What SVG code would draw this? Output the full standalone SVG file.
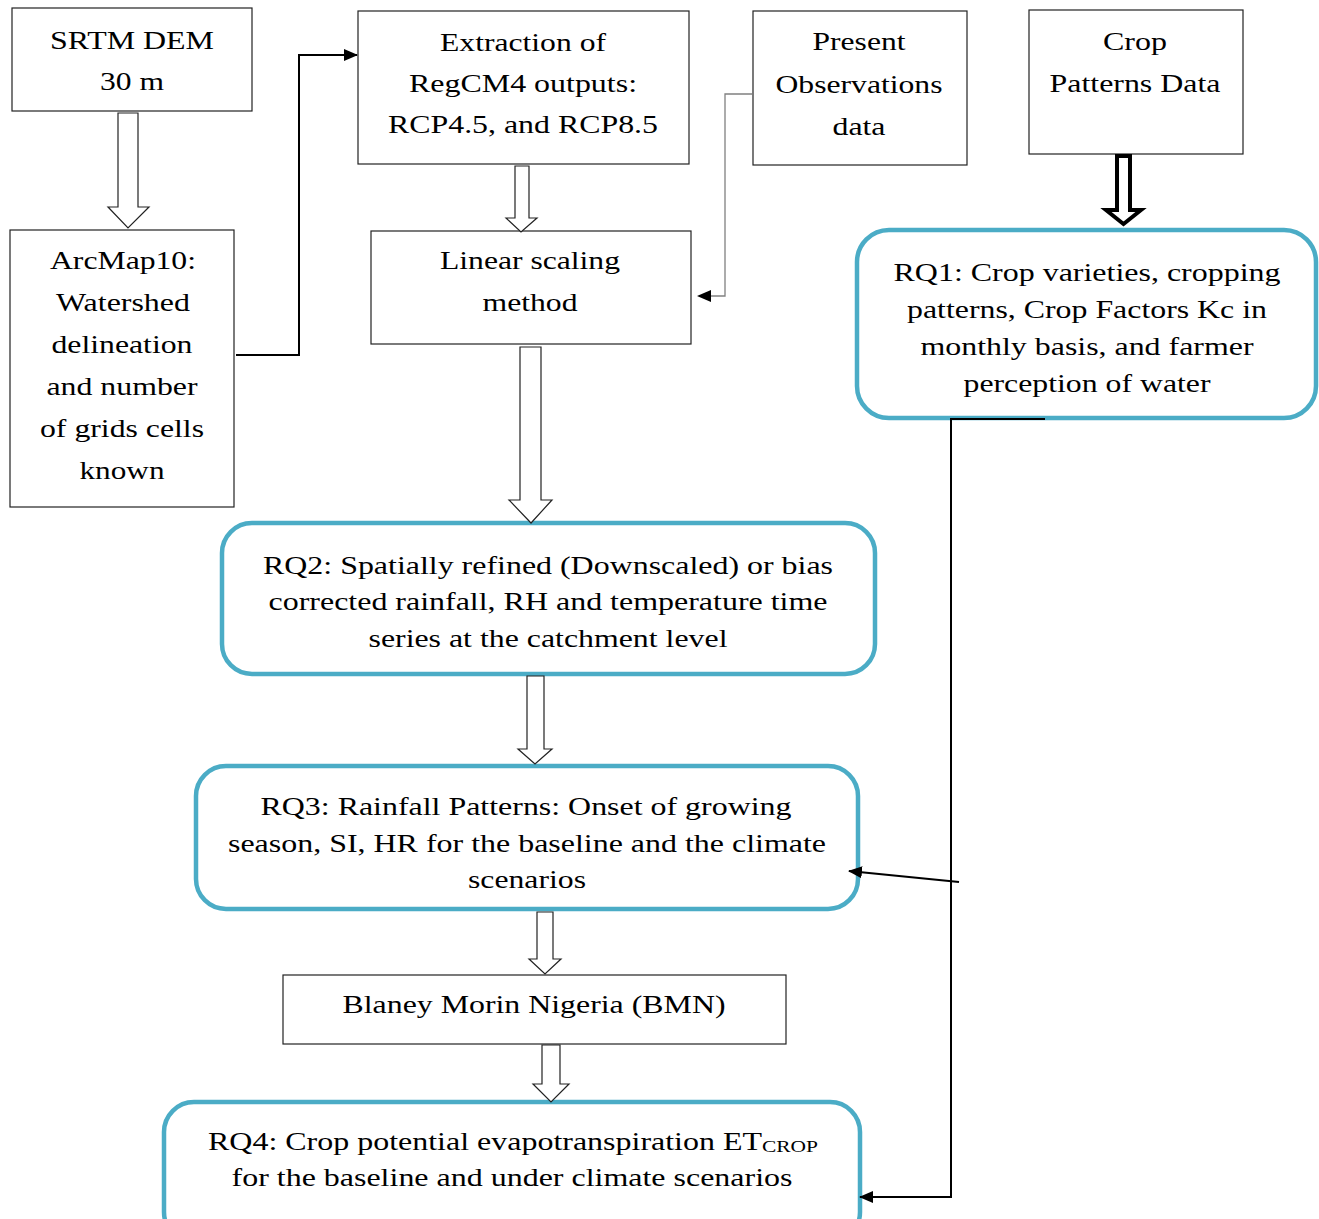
<svg xmlns="http://www.w3.org/2000/svg" width="1319" height="1219" viewBox="0 0 1319 1219" font-family="Liberation Serif, Times New Roman, serif">
<style>
.box{fill:#fff;stroke:#222;stroke-width:1.2}
.rq{fill:#fff;stroke:#4BACC6;stroke-width:4.5}
text{font-family:"Liberation Serif",serif}
.t{font-size:24.5px;fill:#000;text-anchor:middle}
.ts{font-size:17px;fill:#000}
.hol{fill:#fff;stroke:#222;stroke-width:1.2;stroke-linejoin:miter}
.thk{fill:#fff;stroke:#000;stroke-width:4;stroke-linejoin:miter}
.ln{fill:none;stroke:#000;stroke-width:2}
.lg{fill:none;stroke:#808080;stroke-width:1.3}
</style>
<defs>
<marker id="ah" markerUnits="userSpaceOnUse" markerWidth="14" markerHeight="12" refX="13" refY="6" orient="auto">
<path d="M0,0 L14,6 L0,12 Z" fill="#000"/>
</marker>
</defs>
<rect width="1319" height="1219" fill="#fff"/>

<g id="srtm">
<rect class="box" x="12" y="8" width="240" height="103"/>
<text class="t" x="132" y="49" textLength="164" lengthAdjust="spacingAndGlyphs">SRTM DEM</text>
<text class="t" x="132" y="90" textLength="64" lengthAdjust="spacingAndGlyphs">30 m</text>
</g>

<g id="arcmap">
<rect class="box" x="10" y="230" width="224" height="277"/>
<text class="t" x="123" y="269" textLength="146" lengthAdjust="spacingAndGlyphs">ArcMap10:</text>
<text class="t" x="123" y="311" textLength="134" lengthAdjust="spacingAndGlyphs">Watershed</text>
<text class="t" x="122" y="353" textLength="141" lengthAdjust="spacingAndGlyphs">delineation</text>
<text class="t" x="122" y="395" textLength="151" lengthAdjust="spacingAndGlyphs">and number</text>
<text class="t" x="122" y="437" textLength="164" lengthAdjust="spacingAndGlyphs">of grids cells</text>
<text class="t" x="122" y="479" textLength="85" lengthAdjust="spacingAndGlyphs">known</text>
</g>

<g id="extraction">
<rect class="box" x="358" y="11" width="331" height="153"/>
<text class="t" x="523" y="51" textLength="166" lengthAdjust="spacingAndGlyphs">Extraction of</text>
<text class="t" x="523" y="92" textLength="228" lengthAdjust="spacingAndGlyphs">RegCM4 outputs:</text>
<text class="t" x="523" y="133" textLength="270" lengthAdjust="spacingAndGlyphs">RCP4.5, and RCP8.5</text>
</g>

<g id="linear">
<rect class="box" x="371" y="231" width="320" height="113"/>
<text class="t" x="530" y="269" textLength="180" lengthAdjust="spacingAndGlyphs">Linear scaling</text>
<text class="t" x="530" y="311" textLength="95" lengthAdjust="spacingAndGlyphs">method</text>
</g>

<g id="present">
<rect class="box" x="753" y="11" width="214" height="154"/>
<text class="t" x="859" y="50" textLength="93" lengthAdjust="spacingAndGlyphs">Present</text>
<text class="t" x="859" y="93" textLength="167" lengthAdjust="spacingAndGlyphs">Observations</text>
<text class="t" x="859" y="135" textLength="53" lengthAdjust="spacingAndGlyphs">data</text>
</g>

<g id="crop">
<rect class="box" x="1029" y="10" width="214" height="144"/>
<text class="t" x="1135" y="50" textLength="64" lengthAdjust="spacingAndGlyphs">Crop</text>
<text class="t" x="1135" y="92" textLength="171" lengthAdjust="spacingAndGlyphs">Patterns Data</text>
</g>

<g id="rq1">
<rect class="rq" x="857" y="230" width="459" height="188" rx="32" ry="32"/>
<text class="t" x="1087" y="281" textLength="387" lengthAdjust="spacingAndGlyphs">RQ1: Crop varieties, cropping</text>
<text class="t" x="1087" y="318" textLength="360" lengthAdjust="spacingAndGlyphs">patterns, Crop Factors Kc in</text>
<text class="t" x="1087" y="355" textLength="333" lengthAdjust="spacingAndGlyphs">monthly basis, and farmer</text>
<text class="t" x="1087" y="392" textLength="247" lengthAdjust="spacingAndGlyphs">perception of water</text>
</g>

<g id="rq2">
<rect class="rq" x="222" y="523" width="653" height="151" rx="30" ry="30"/>
<text class="t" x="548" y="574" textLength="570" lengthAdjust="spacingAndGlyphs">RQ2: Spatially refined (Downscaled) or bias</text>
<text class="t" x="548" y="610" textLength="559" lengthAdjust="spacingAndGlyphs">corrected rainfall, RH and temperature time</text>
<text class="t" x="548" y="647" textLength="359" lengthAdjust="spacingAndGlyphs">series at the catchment level</text>
</g>

<g id="rq3">
<rect class="rq" x="196" y="766" width="662" height="143" rx="30" ry="30"/>
<text class="t" x="526" y="815" textLength="531" lengthAdjust="spacingAndGlyphs">RQ3: Rainfall Patterns: Onset of growing</text>
<text class="t" x="527" y="852" textLength="598" lengthAdjust="spacingAndGlyphs">season, SI, HR for the baseline and the climate</text>
<text class="t" x="527" y="888" textLength="118" lengthAdjust="spacingAndGlyphs">scenarios</text>
</g>

<g id="bmn">
<rect class="box" x="283" y="975" width="503" height="69"/>
<text class="t" x="534" y="1013" textLength="383" lengthAdjust="spacingAndGlyphs">Blaney Morin Nigeria (BMN)</text>
</g>

<g id="rq4">
<rect class="rq" x="164" y="1102" width="696" height="140" rx="30" ry="30"/>
<text class="t" x="485" y="1150" textLength="554" lengthAdjust="spacingAndGlyphs">RQ4: Crop potential evapotranspiration ET</text>
<text class="ts" x="762" y="1152" textLength="56" lengthAdjust="spacingAndGlyphs">CROP</text>
<text class="t" x="512" y="1186" textLength="561" lengthAdjust="spacingAndGlyphs">for the baseline and under climate scenarios</text>
</g>

<g id="connectors">
<polygon class="hol" points="118,113 138,113 138,207 149,207 128,228 108,207 118,207"/>
<polygon class="hol" points="515,166 529,166 529,218 537,218 521,232 506,218 515,218"/>
<polygon class="thk" points="1117,156 1130,156 1130,210 1141,210 1123.5,224 1106,210 1117,210"/>
<polygon class="hol" points="520,347 541,347 541,500 552,500 531,523 509,500 520,500"/>
<polygon class="hol" points="527,676 544,676 544,749 552,749 535,764 518,749 527,749"/>
<polygon class="hol" points="537,912 553,912 553,959 561,959 545,974 529,959 537,959"/>
<polygon class="hol" points="542,1045 560,1045 560,1084 569,1084 551,1102 533,1084 542,1084"/>
<polyline class="ln" points="236,355 299,355 299,55 357,55" marker-end="url(#ah)"/>
<polyline class="lg" points="752,94 725,94 725,296 699,296"/>
<path d="M697,296 L711,290 L711,302 Z" fill="#000"/>
<polyline class="ln" points="1045,419 951,419 951,1197 860,1197" marker-end="url(#ah)"/>
<line class="ln" x1="959" y1="882" x2="849" y2="871" marker-end="url(#ah)"/>
</g>
</svg>
